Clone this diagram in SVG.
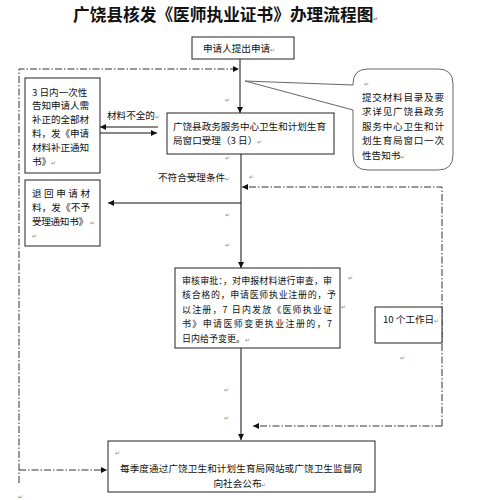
<svg xmlns="http://www.w3.org/2000/svg" width="479" height="500" viewBox="0 0 479 500">
<style>
text{font-family:"Noto Sans CJK SC","Liberation Sans",sans-serif;fill:#111}
.t{font-size:9.6px}
.s{font-size:9px}
.title{font-size:16.7px;font-weight:bold}
.pm{font-size:6px;fill:#888}
.box{fill:#fff;stroke:#222;stroke-width:1}
.ln{fill:none;stroke:#111;stroke-width:1}
.dd{fill:none;stroke:#333;stroke-width:1;stroke-dasharray:7 2 1.5 2}
</style>
<defs>
<marker id="ah" markerUnits="userSpaceOnUse" markerWidth="7" markerHeight="7" refX="6" refY="3.5" orient="auto">
<path d="M0,0.5 L6,3.5 L0,6.5 Z" fill="#111"/>
</marker>
</defs>
<rect width="479" height="500" fill="#fff"/>
<text class="title" x="73" y="21">广饶县核发《医师执业证书》办理流程图<tspan class="pm">↵</tspan></text>

<g id="connectors">
<path class="ln" d="M240,59 V113" marker-end="url(#ah)"/>
<path class="ln" d="M241,154 V268" marker-end="url(#ah)"/>
<path class="ln" d="M241,348 V440" marker-end="url(#ah)"/>
<path class="ln" d="M158,127 H100" marker-end="url(#ah)"/>
<path class="ln" d="M100,133 H157" marker-end="url(#ah)"/>
<path class="ln" d="M241,203 H108" marker-end="url(#ah)"/>
<path class="dd" d="M19,483 V69 H239" marker-end="url(#ah)"/>
<path class="dd" d="M19,470 H107" marker-end="url(#ah)"/>
<path class="dd" d="M442,426 V187 H242" marker-end="url(#ah)"/>
<path class="dd" d="M442,426 H253" marker-end="url(#ah)"/>
<text class="t" x="107" y="118.5">材料不全的<tspan class="pm">↵</tspan></text>
<text class="t" x="158" y="180.5">不符合受理条件<tspan class="pm">↵</tspan></text>
</g>

<g id="n-apply">
<rect class="box" x="192" y="37" width="102" height="22"/>
<text class="t" x="203" y="52">申请人提出申请<tspan class="pm">↵</tspan></text>
</g>

<g id="n-notice">
<rect class="box" x="25" y="78" width="75" height="95"/>
<text class="t" x="32" y="95.5">3 日内一次性</text>
<text class="t" x="32" y="109.3" textLength="57" lengthAdjust="spacing">告知申请人需</text>
<text class="t" x="32" y="123.1" textLength="57" lengthAdjust="spacing">补正的全部材</text>
<text class="t" x="32" y="136.9" textLength="57" lengthAdjust="spacing">料，发《申请</text>
<text class="t" x="32" y="150.7" textLength="57" lengthAdjust="spacing">材料补正通知</text>
<text class="t" x="32" y="164.5">书》<tspan class="pm">↵</tspan></text>
</g>

<g id="n-accept">
<rect class="box" x="167" y="113" width="167" height="41"/>
<text class="t" x="173" y="129.5" textLength="153" lengthAdjust="spacing">广饶县政务服务中心卫生和计划生育</text>
<text class="t" x="173" y="143.5">局窗口受理（3 日）<tspan class="pm">↵</tspan></text>
</g>

<g id="n-callout">
<path d="M368,69 H438 Q453,69 453,84 V155 Q453,170 438,170 H368 Q353,170 353,155 V110 L245,81 L353,85 V84 Q353,69 368,69 Z" fill="#fff" stroke="#666" stroke-width="1"/>
<text class="pm" x="364" y="86">↵</text>
<text class="t" x="362" y="100.5" textLength="82" lengthAdjust="spacing">提交材料目录及要</text>
<text class="t" x="362" y="115" textLength="82" lengthAdjust="spacing">求详见广饶县政务</text>
<text class="t" x="362" y="129.5" textLength="82" lengthAdjust="spacing">服务中心卫生和计</text>
<text class="t" x="362" y="144" textLength="82" lengthAdjust="spacing">划生育局窗口一次</text>
<text class="t" x="362" y="158.5">性告知书<tspan class="pm">↵</tspan></text>
</g>

<g id="n-reject">
<rect class="box" x="25" y="180" width="75" height="66"/>
<text class="t" x="32" y="196.5" textLength="58" lengthAdjust="spacing">退回申请材</text>
<text class="t" x="32" y="210.5" textLength="58" lengthAdjust="spacing">料，发《不予</text>
<text class="t" x="32" y="225" textLength="56" lengthAdjust="spacing">受理通知书》</text>
<text class="pm" x="90" y="225">↵</text>
<text class="pm" x="32" y="238">↵</text>
</g>

<g id="n-review">
<rect class="box" x="175" y="268" width="165" height="80"/>
<text class="s" x="182" y="283.5" textLength="150" lengthAdjust="spacing">审核审批：，对申报材料进行审查，审</text>
<text class="s" x="182" y="298" textLength="154" lengthAdjust="spacing">核合格的，申请医师执业注册的，予</text>
<text class="s" x="182" y="312.5" textLength="150" lengthAdjust="spacing">以注册，7 日内发放《医师执业证</text>
<text class="s" x="182" y="327" textLength="150" lengthAdjust="spacing">书》申请医师变更执业注册的，7</text>
<text class="s" x="182" y="341.5">日内给予变更。<tspan class="pm">↵</tspan></text>
</g>

<g id="n-days">
<rect class="box" x="375" y="307" width="67" height="36"/>
<text class="t" x="383" y="322.5">10 个工作日<tspan class="pm">↵</tspan></text>
</g>

<g id="n-publish">
<rect class="box" x="108" y="441" width="267" height="51"/>
<text class="pm" x="115" y="455">↵</text>
<text class="t" x="241" y="471.5" text-anchor="middle" textLength="242" lengthAdjust="spacing">每季度通过广饶卫生和计划生育局网站或广饶卫生监督网</text>
<text class="t" x="240" y="486.5" text-anchor="middle">向社会公布<tspan class="pm">↵</tspan></text>
</g>

<g id="marks">
<text class="pm" x="225" y="102">↵</text>
<text class="pm" x="225" y="160">↵</text>
<text class="pm" x="249" y="179">↵</text>
<text class="pm" x="225" y="217">↵</text>
<text class="pm" x="225" y="247">↵</text>
<text class="pm" x="348" y="280">↵</text>
<text class="pm" x="341" y="309">↵</text>
<text class="pm" x="400" y="360">↵</text>
<text class="pm" x="224" y="392">↵</text>
<text class="pm" x="224" y="420">↵</text>
<text class="pm" x="18" y="499">↵</text>
</g>
</svg>
